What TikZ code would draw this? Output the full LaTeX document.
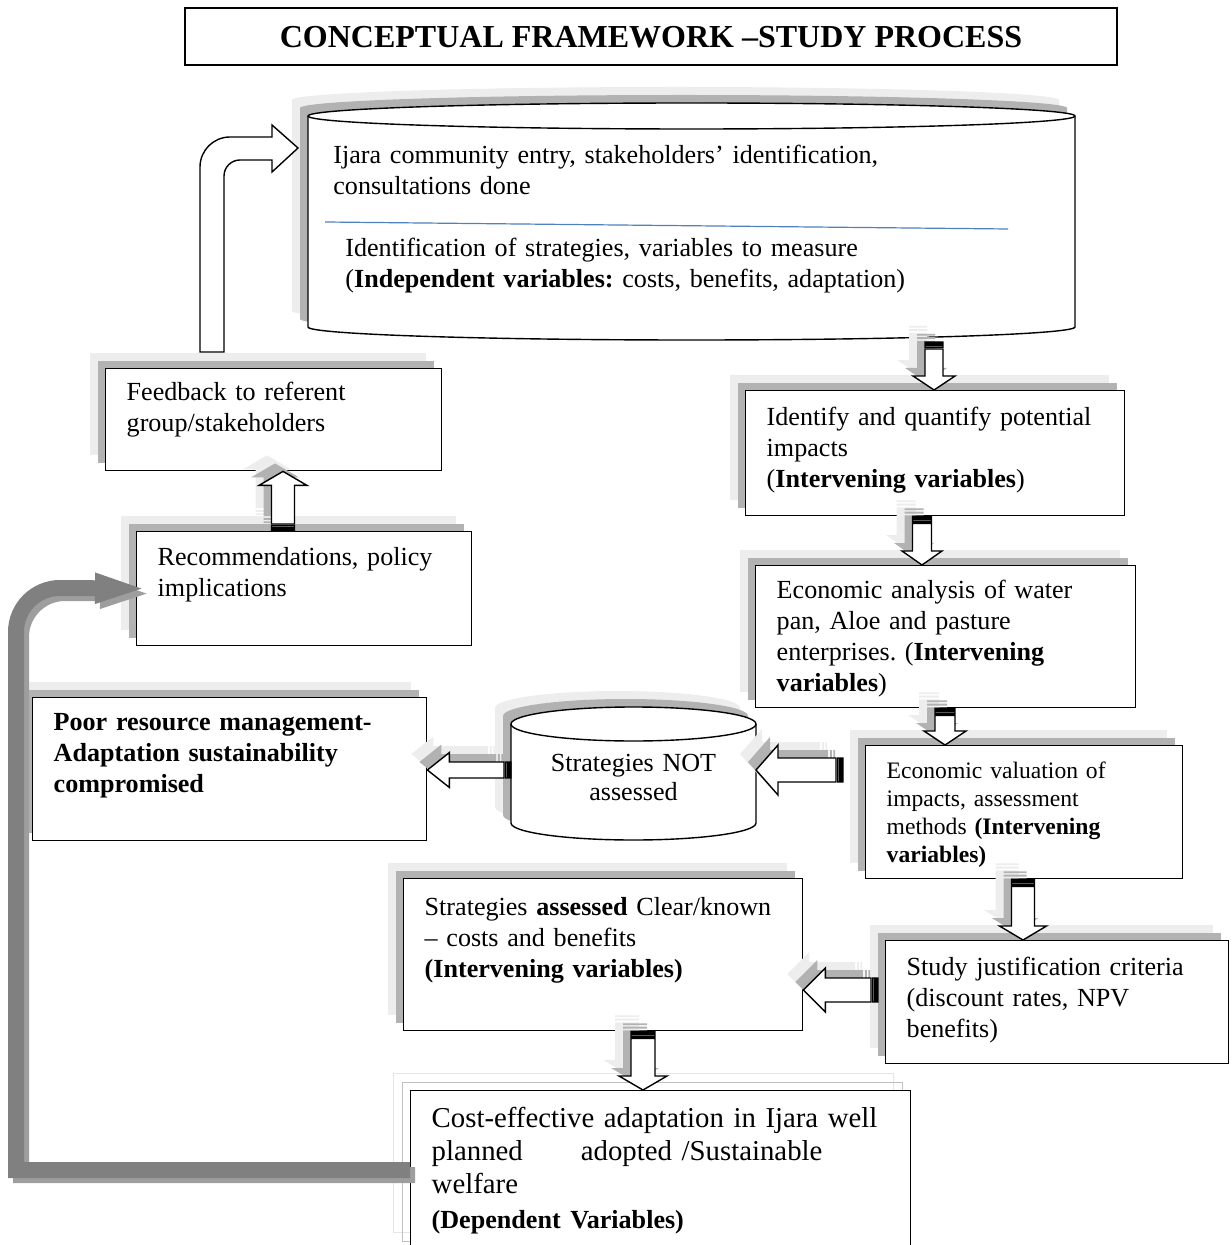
\documentclass[tikz,border=0pt]{standalone}
\usepackage{fontspec}
\setmainfont{Liberation Serif}
\usetikzlibrary{calc,shadows,arrows.meta}
\definecolor{lineblue}{HTML}{4F81BD}
\frenchspacing

% striped block arrows, written inside a let path (\p1 = tail, \p2 = tip)
\newcommand{\vshape}[3]{(\x2,\y2) -- ({\x2-#2},{\y2+(#1)*7pt}) -- ({\x2-#3},{\y2+(#1)*7pt}) -- ({\x2-#3},{\y1-(#1)*3.5pt}) -- ({\x2+#3},{\y1-(#1)*3.5pt}) -- ({\x2+#3},{\y2+(#1)*7pt}) -- ({\x2+#2},{\y2+(#1)*7pt}) -- cycle ({\x2-#3},{\y1-(#1)*2.6pt}) rectangle ({\x2+#3},{\y1-(#1)*1.6pt}) ({\x2-#3},{\y1-(#1)*0.8pt}) rectangle ({\x2+#3},\y1)}
\newcommand{\hshape}[2]{(\x2,\y2) -- ({\x2+11pt},{\y2+#1}) -- ({\x2+11pt},{\y2+#2}) -- ({\x1-3.5pt},{\y2+#2}) -- ({\x1-3.5pt},{\y2-#2}) -- ({\x2+11pt},{\y2-#2}) -- ({\x2+11pt},{\y2-#1}) -- cycle ({\x1-2.6pt},{\y2-#2}) rectangle ({\x1-1.6pt},{\y2+#2}) ({\x1-0.8pt},{\y2-#2}) rectangle (\x1,{\y2+#2})}
\newcommand{\blockarrow}[3]{%
  \fill[black!7,transform canvas={shift={(-8pt,8pt)}}] let \p1=#2, \p2=#3 in #1;
  \fill[black!30,transform canvas={shift={(-4pt,4pt)}}] let \p1=#2, \p2=#3 in #1;
  \path[arrowbox] let \p1=#2, \p2=#3 in #1;}
% can: centre x, top y, bottom y, x radius, y radius
\newcommand{\drawcan}[5]{%
  \draw[canbody] (#1-#4,#2) -- (#1-#4,#3) arc[start angle=180,end angle=0,x radius=#4,y radius=#5] -- (#1+#4,#2) arc[start angle=0,end angle=-180,x radius=#4,y radius=#5] -- cycle;
  \draw[line width=0.7pt] (#1-#4,#2) arc[start angle=180,end angle=0,x radius=#4,y radius=#5];}

\begin{document}
\begin{tikzpicture}[x=0.5pt,y=-0.5pt,
  basebox/.style={draw,line width=0.7pt,fill=white,anchor=north west,align=left,
    inner xsep=10.5pt,inner ysep=2pt,text height=10pt,font=\fontsize{13.05}{15.5}\selectfont},
  sbox/.style={basebox,
    general shadow={fill=black!7,shadow xshift=-8pt,shadow yshift=8pt},
    general shadow={fill=black!30,shadow xshift=-4pt,shadow yshift=4pt}},
  costframe/.style={basebox,
    general shadow={draw=black!10,line width=0.6pt,shadow xshift=-8.5pt,shadow yshift=8.5pt},
    general shadow={draw=black!25,line width=0.6pt,shadow xshift=-4pt,shadow yshift=4pt}},
  cantext/.style={anchor=north west,align=left,inner sep=0pt,text height=10pt,
    font=\fontsize{13.05}{15.5}\selectfont},
  canbody/.style={draw,line width=0.7pt,fill=white,
    general shadow={fill=black!7,shadow xshift=-8pt,shadow yshift=8pt},
    general shadow={fill=black!30,shadow xshift=-4pt,shadow yshift=4pt}},
  arrowbox/.style={draw,fill=white,line width=0.7pt},
  loopback/.style={line width=8pt,-{Triangle[length=30pt,width=12.5pt]}}]

\useasboundingbox (0,0) rectangle (1231,1245);

%%%%% title
\node[draw,line width=0.6pt,minimum width=466pt,minimum height=28.5pt,text height=10.6pt,text depth=0pt,
  font=\bfseries\fontsize{16}{19}\selectfont] (title) at (651,36.5) {CONCEPTUAL FRAMEWORK –STUDY PROCESS};

%%%%% community entry can
\drawcan{691.5}{116}{327}{383.5}{13}
\draw[lineblue,line width=0.6pt] (325,222) -- (1008,229);
\node[cantext,text width=360pt] (entry) at (333,143) {Ijara community entry, stakeholders’ identification,\\consultations done};
\node[cantext,text width=360pt] (measure) at (345,236) {Identification of strategies, variables to measure\\(\textbf{Independent variables:} costs, benefits, adaptation)};

%%%%% boxes
\node[sbox,text width=147pt,minimum height=51pt,text depth=29pt] (feedback) at (105,368) {Feedback to referent\\group/stakeholders};
\node[sbox,text width=146.5pt,minimum height=57pt,text depth=33pt] (recommend) at (136,531) {Recommendations, policy\\implications};
\node[sbox,text width=168.5pt,minimum height=62.5pt,text depth=37.5pt] (impacts) at (745,390) {Identify and quantify potential\\impacts\\(\textbf{Intervening variables})};
\node[sbox,text width=169pt,minimum height=71pt,text depth=48pt] (analysis) at (755,565) {Economic analysis of water\\pan, Aloe and pasture\\enterprises. (\textbf{Intervening}\\\textbf{variables})};
\node[sbox,text width=137.5pt,minimum height=66.5pt,text depth=43.5pt,font=\fontsize{11.8}{14}\selectfont] (valuation) at (865,745) {Economic valuation of\\impacts, assessment\\methods \textbf{(Intervening}\\\textbf{variables)}};
\node[sbox,text width=150.5pt,minimum height=61.5pt,text depth=36.5pt] (justify) at (885,940) {Study justification criteria\\(discount rates, NPV\\benefits)};
\node[sbox,text width=178.5pt,minimum height=76pt,text depth=49pt] (assessed) at (403,878) {Strategies \textbf{assessed} Clear/known\\– costs and benefits\\\textbf{(Intervening variables)}};
\node[sbox,text width=176pt,minimum height=71.5pt,text depth=48.5pt,font=\bfseries\fontsize{13.05}{15.5}\selectfont] (poor) at (32,697) {Poor resource management-\\Adaptation sustainability\\compromised};
\node[costframe,text width=229pt,minimum height=79.5pt,text depth=52.5pt,font=\fontsize{14.4}{16.5}\selectfont] (costeff) at (410,1090) {Cost-effective adaptation in Ijara well\\planned\hspace{29pt}adopted /Sustainable\\welfare\\[1pt]{\fontsize{13.05}{15.5}\selectfont\textbf{(Dependent Variables)}}};

%%%%% strategies not assessed can
\drawcan{633.5}{724}{823}{122.5}{17}
\node[cantext,anchor=north,align=center,text width=120pt] (notassessed) at (633.5,751) {Strategies NOT\\[-1pt]assessed};

%%%%% block arrows
\blockarrow{\vshape{1}{10.5pt}{4.5pt}}{(934,342)}{(934,0 |- impacts.north)}
\blockarrow{\vshape{1}{10pt}{4.75pt}}{(922,0 |- impacts.south)}{(922,0 |- analysis.north)}
\blockarrow{\vshape{1}{10.5pt}{5pt}}{(945,0 |- analysis.south)}{(945,0 |- valuation.north)}
\blockarrow{\vshape{1}{11.75pt}{5.75pt}}{(1023,0 |- valuation.south)}{(1023,0 |- justify.north)}
\blockarrow{\vshape{1}{12pt}{6pt}}{(643,0 |- assessed.south)}{(643,0 |- costeff.north)}
\blockarrow{\vshape{-1}{12pt}{5.75pt}}{(283,0 |- recommend.north)}{(283,0 |- feedback.south)}
\blockarrow{\hshape{11pt}{6pt}}{(878,990)}{(assessed.east |- 0,990)}
\blockarrow{\hshape{12.5pt}{6pt}}{(843,770)}{(756,770)}
\blockarrow{\hshape{8.75pt}{4pt}}{(511,770)}{(poor.east |- 0,770)}

%%%%% bent arrow up to the can
\draw[arrowbox] (200,352) -- (200,167) arc[start angle=180,end angle=270,radius=30] -- (272,137) -- (272,125) -- (298,148) -- (272,172) -- (272,160) -- (240,160) arc[start angle=270,end angle=180,radius=16] -- (224,352) -- cycle;

%%%%% grey loop back to recommendations
\draw[loopback,black!38,transform canvas={shift={(2.5pt,-2.5pt)}}] (costeff.west) -- (16,0 |- costeff.west) -- (16,632) arc[start angle=180,end angle=270,radius=44] -- ([xshift=9.5pt]recommend.west);
\draw[loopback,black!50] (costeff.west) -- (16,0 |- costeff.west) -- (16,632) arc[start angle=180,end angle=270,radius=44] -- ([xshift=9.5pt]recommend.west);
\end{tikzpicture}
\end{document}
